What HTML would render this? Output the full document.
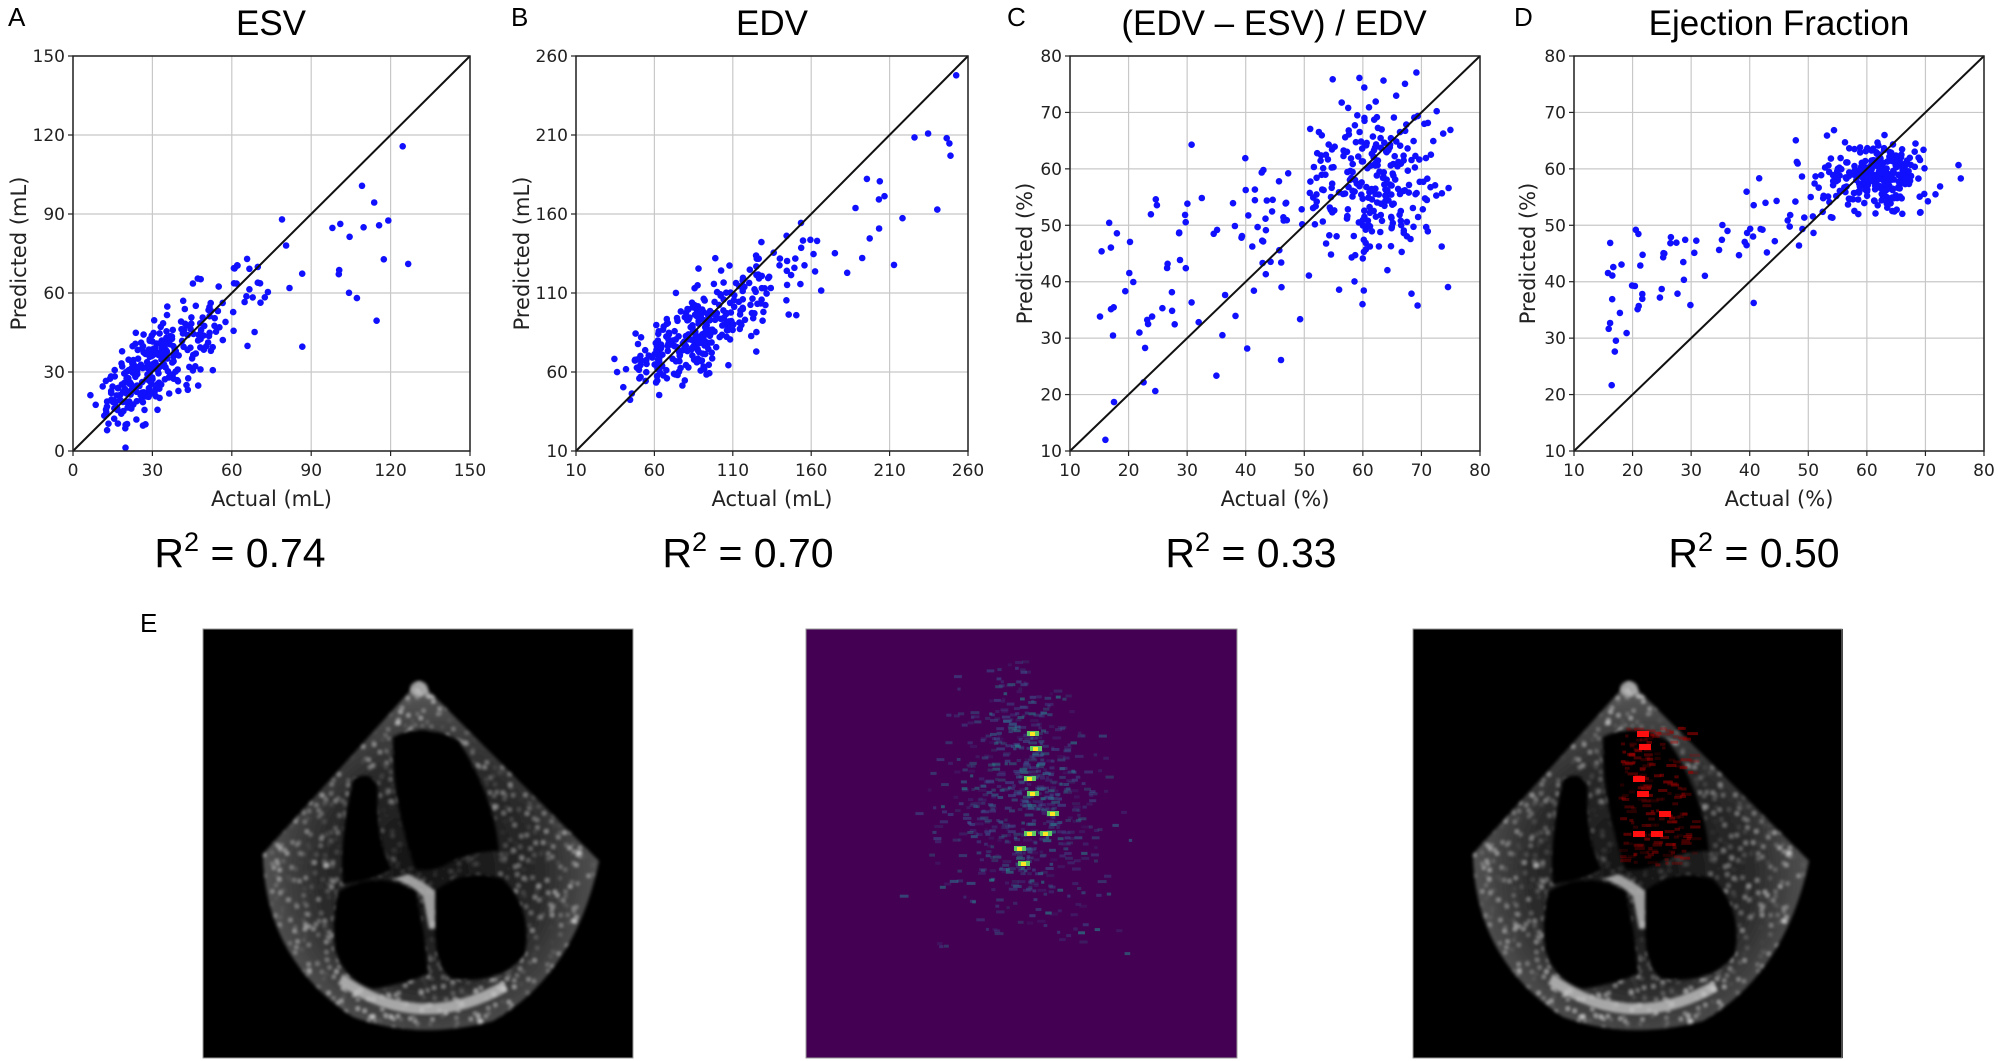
<!DOCTYPE html>
<html><head><meta charset="utf-8"><style>
html,body{margin:0;padding:0;background:#fff;}
svg{display:block;font-family:"DejaVu Sans","Liberation Sans",sans-serif;}
.big{font-family:"Liberation Sans",sans-serif;}
</style></head><body>
<svg id="s" xmlns="http://www.w3.org/2000/svg" width="1998" height="1061" viewBox="0 0 1998 1061">
<defs>
<filter id="blur2"><feGaussianBlur stdDeviation="1.5"/></filter>
<radialGradient id="fang" cx="0.5" cy="0.55" r="0.6">
<stop offset="0" stop-color="#111"/><stop offset="0.55" stop-color="#2a2a2a"/><stop offset="0.85" stop-color="#555"/><stop offset="1" stop-color="#777"/>
</radialGradient>
<clipPath id="fanclip"><path d="M216,52 L60,225 Q62,330 150,388 Q216,412 290,392 Q372,345 396,232 Z"/></clipPath>
<g id="heart">
<rect x="0" y="0" width="430" height="429" fill="#000"/>
<g filter="url(#blur2)">
<path d="M216,52 L60,225 Q62,330 150,388 Q216,412 290,392 Q372,345 396,232 Z" fill="url(#fang)"/>
<g id="speck" clip-path="url(#fanclip)"></g>
</g>
<g fill="#000" filter="url(#blur2)">
<path d="M190,108 Q222,92 256,112 Q292,170 296,222 Q272,222 250,232 Q230,244 212,240 Q188,170 190,108 Z"/>
<path d="M150,150 Q170,140 175,160 Q172,205 188,240 Q170,252 140,255 Q135,220 150,150 Z"/>
<path d="M136,262 Q175,240 212,262 Q222,300 225,345 Q200,355 170,360 Q140,350 132,320 Q128,290 136,262 Z"/>
<path d="M232,262 Q262,238 300,250 Q330,280 322,325 Q300,355 250,350 Q232,340 232,300 Z"/>
</g>
<g fill="#ccc" filter="url(#blur2)" opacity="0.75">
<path d="M205,245 Q225,255 232,262 L232,300 L226,300 L220,268 Q210,256 190,250 Z"/>
<ellipse cx="216" cy="60" rx="9" ry="8" fill="#bbb"/>
<path d="M140,345 Q216,400 300,352 L305,362 Q216,412 135,355 Z"/>
</g>
</g>
</defs>
<g id="plots"></g>
<g class="big" font-size="35" text-anchor="middle" fill="#000">
<text x="271" y="35">ESV</text>
<text x="772" y="35">EDV</text>
<text x="1274" y="35">(EDV – ESV) / EDV</text>
<text x="1779" y="35">Ejection Fraction</text>
</g>
<g class="big" font-size="26" fill="#000">
<text x="8" y="26">A</text>
<text x="511" y="26">B</text>
<text x="1007" y="26">C</text>
<text x="1514" y="26">D</text>
<text x="140" y="632">E</text>
</g>
<g class="big" font-size="41" text-anchor="middle" fill="#000">
<text x="240" y="567">R<tspan font-size="27" dy="-16">2</tspan><tspan dy="16"> = 0.74</tspan></text>
<text x="748" y="567">R<tspan font-size="27" dy="-16">2</tspan><tspan dy="16"> = 0.70</tspan></text>
<text x="1251" y="567">R<tspan font-size="27" dy="-16">2</tspan><tspan dy="16"> = 0.33</tspan></text>
<text x="1754" y="567">R<tspan font-size="27" dy="-16">2</tspan><tspan dy="16"> = 0.50</tspan></text>
</g>
<g transform="translate(203,629)"><use href="#heart"/><rect x="0" y="0" width="430" height="429" fill="none" stroke="#999" stroke-width="1"/></g>
<g transform="translate(806,629)">
<rect x="0" y="0" width="431" height="429" fill="#440154" stroke="#999"/>
<g id="hm"></g>
</g>
<g transform="translate(1413,629)"><use href="#heart"/>
<g id="red"></g>
<rect x="0" y="0" width="429" height="429" fill="none" stroke="#999" stroke-width="1"/></g>
</svg>
<script>
var NS="http://www.w3.org/2000/svg";
var seed=12345;function rnd(){seed=(seed*1103515245+12345)&0x7fffffff;return seed/0x7fffffff;}
function gauss(){var u=rnd()||1e-9,v=rnd();return Math.sqrt(-2*Math.log(u))*Math.cos(2*Math.PI*v);}
function el(p,t,a,txt){var e=document.createElementNS(NS,t);for(var k in a)e.setAttribute(k,a[k]);if(txt!==undefined)e.textContent=txt;p.appendChild(e);return e;}
var P=document.getElementById("plots");
function plot(x0,x1,y0,y1,mn,mx,ticks,xl,yl,ylx,pts){
 var g=el(P,"g",{});
 function sx(v){return x0+(v-mn)/(mx-mn)*(x1-x0);}
 function sy(v){return y1-(v-mn)/(mx-mn)*(y1-y0);}
 ticks.forEach(function(t){
  el(g,"line",{x1:sx(t),x2:sx(t),y1:y0,y2:y1,stroke:"#c8c8c8","stroke-width":1.2});
  el(g,"line",{x1:x0,x2:x1,y1:sy(t),y2:sy(t),stroke:"#c8c8c8","stroke-width":1.2});
  el(g,"line",{x1:sx(t),x2:sx(t),y1:y1,y2:y1+5,stroke:"#222","stroke-width":1.2});
  el(g,"line",{x1:x0-5,x2:x0,y1:sy(t),y2:sy(t),stroke:"#222","stroke-width":1.2});
  el(g,"text",{x:sx(t),y:y1+25,"text-anchor":"middle","font-size":17,fill:"#222"},t);
  el(g,"text",{x:x0-8,y:sy(t)+6,"text-anchor":"end","font-size":17,fill:"#222"},t);
 });
 pts.forEach(function(p){if(p[0]>mn&&p[0]<mx&&p[1]>mn&&p[1]<mx)el(g,"circle",{cx:sx(p[0]).toFixed(1),cy:sy(p[1]).toFixed(1),r:3.3,fill:"#1010ff"});});
 el(g,"line",{x1:x0,y1:y1,x2:x1,y2:y0,stroke:"#111","stroke-width":2});
 el(g,"rect",{x:x0,y:y0,width:x1-x0,height:y1-y0,fill:"none",stroke:"#222","stroke-width":1.5});
 el(g,"text",{x:(x0+x1)/2,y:y1+55,"text-anchor":"middle","font-size":21,fill:"#222"},xl);
 el(g,"text",{x:0,y:0,"text-anchor":"middle","font-size":21,fill:"#222",transform:"translate("+ylx+","+((y0+y1)/2)+") rotate(-90)"},yl);
}
var a=[];for(var i=0;i<330;i++){var x=Math.exp(3.45+0.45*gauss());if(x>148)x=140*rnd();var y=0.72*x+10+gauss()*(5+0.09*x);a.push([x,y]);}
for(i=0;i<14;i++){x=95+50*rnd();a.push([x,x*0.75+gauss()*20]);}
plot(73,470,56,451,0,150,[0,30,60,90,120,150],"Actual (mL)","Predicted (mL)",26,a);
var b=[];for(i=0;i<330;i++){x=Math.exp(4.5+0.32*gauss());if(x>255)x=200*rnd()+40;y=0.6*x+33+gauss()*(8+0.07*x);b.push([x,y]);}
for(i=0;i<8;i++){x=180+75*rnd();b.push([x,0.7*x+25+gauss()*25]);}
plot(576,968,56,451,10,260,[10,60,110,160,210,260],"Actual (mL)","Predicted (mL)",529,b);
var c=[];for(i=0;i<260;i++){x=62+gauss()*5.5;y=58+gauss()*8;c.push([x,y]);}
for(i=0;i<90;i++){x=15+40*rnd();y=0.5*x+27+gauss()*10;c.push([x,y]);}
plot(1070,1480,56,451,10,80,[10,20,30,40,50,60,70,80],"Actual (%)","Predicted (%)",1032,c);
var d=[];for(i=0;i<270;i++){x=62+gauss()*4.2;y=58.5+gauss()*3;d.push([x,y]);}
for(i=0;i<80;i++){x=15+40*rnd();y=0.5*x+28+gauss()*6;d.push([x,y]);}
plot(1574,1984,56,451,10,80,[10,20,30,40,50,60,70,80],"Actual (%)","Predicted (%)",1535,d);
// speckles
var S=document.getElementById("speck");
for(i=0;i<2200;i++){var sxp=50+rnd()*350,syp=50+rnd()*360;
 var dx=(sxp-216)/170,dy=(syp-235)/170;var rr=Math.sqrt(dx*dx+dy*dy);
 var op=Math.min(0.9,0.15+rr*0.6)*rnd();
 el(S,"rect",{x:sxp.toFixed(1),y:syp.toFixed(1),width:3,height:3,fill:"#fff",opacity:op.toFixed(2)});}
var H=document.getElementById("hm"),R=document.getElementById("red");
for(i=0;i<700;i++){var yy=40+gauss()*65+130;var xx=216+gauss()*(22+yy*0.1)*0.9;if(yy<30||yy>330)continue;
 var w=3+rnd()*6,v=rnd();var col=v<0.5?"#3b528b":(v<0.8?"#2c728e":"#21918c");
 el(H,"rect",{x:xx.toFixed(1),y:yy.toFixed(1),width:w.toFixed(1),height:3,fill:col,opacity:(0.15+rnd()*0.45).toFixed(2)});}
[[225,105],[228,120],[222,150],[225,165],[245,185],[222,205],[238,205],[212,220],[216,235]].forEach(function(p){
 el(H,"rect",{x:p[0]-4,y:p[1]-3,width:12,height:5,fill:"#5ec962"});el(H,"rect",{x:p[0]-1,y:p[1]-2,width:5,height:4,fill:"#fde725"});});
for(i=0;i<200;i++){yy=95+rnd()*140;xx=205+rnd()*75;el(R,"rect",{x:xx.toFixed(1),y:yy.toFixed(1),width:(3+rnd()*8).toFixed(1),height:3,fill:"#a00000",opacity:(0.15+rnd()*0.45).toFixed(2)});}
[[228,105],[230,118],[224,150],[228,165],[250,185],[224,205],[242,205]].forEach(function(p){el(R,"rect",{x:p[0]-4,y:p[1]-3,width:12,height:6,fill:"#ff1010"});});
</script>
</body></html>
